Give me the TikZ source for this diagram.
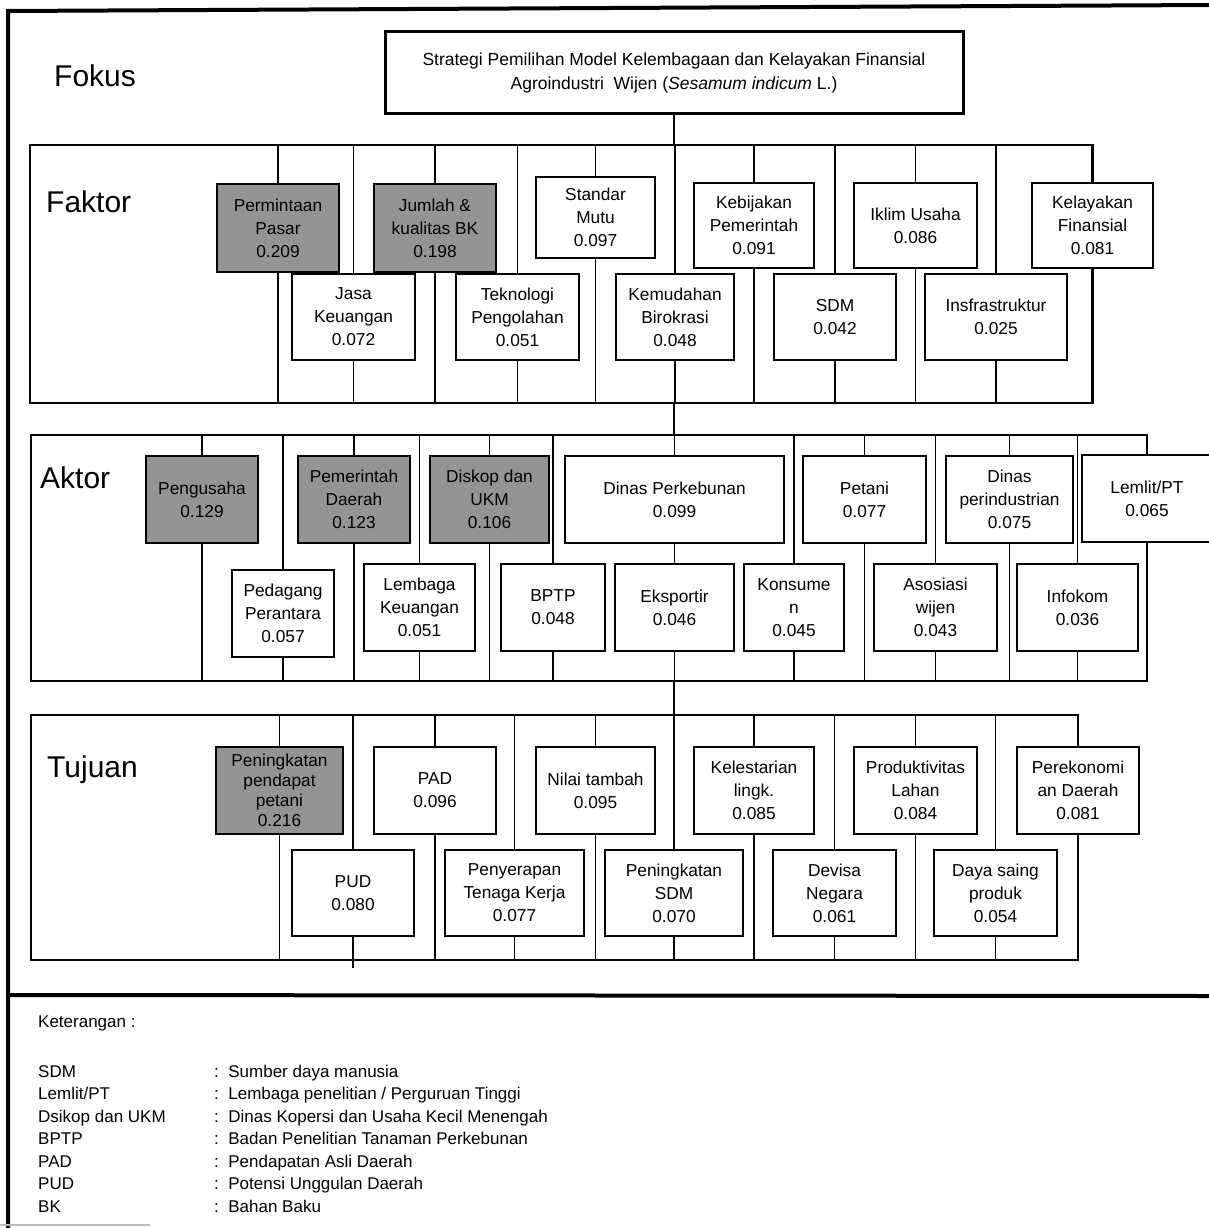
\documentclass[tikz,border=0pt]{standalone}
\usepackage{fontspec}
\setmainfont{Liberation Sans}
\newcommand{\bx}[7][]{%
  \node[box,#1,minimum width={(#5)-(#3)},minimum height={(#6)-(#4)}] (#2) at ({((#3)+(#5))/2},{((#4)+(#6))/2}) {#7};}
\tikzset{
  box/.style={draw, fill=white, line width=1.2pt, align=center, inner sep=0pt, outer sep=0pt,
              font=\fontsize{17.3}{23}\selectfont},
  shaded/.style={fill=black!42},
  bus/.style={line width=2.6pt},
  tbus/.style={line width=1.6pt},
  thinl/.style={line width=1.1pt},
  conn/.style={line width=1.1pt},
  frame/.style={line width=4pt},
  lbl/.style={anchor=base west, inner sep=0pt, font=\fontsize{30}{36}\selectfont},
  leg/.style={anchor=base west, inner sep=0pt, font=\fontsize{17}{22}\selectfont},
}
\begin{document}
\begin{tikzpicture}[x=1pt,y=-1pt]
\useasboundingbox (0,0) rectangle (1209,1228);
\fill[white] (0,0) rectangle (1209,1228);

% outer frame
\draw[frame] (8,1232) -- (8,11) -- (1212,5);
\draw[frame] (8,995) -- (1212,996);
\draw[gray!55, line width=2pt] (0,1225) -- (150,1225);

% level labels
\node[lbl] (lfokus) at (54,87) {Fokus};
\node[lbl] (lfaktor) at (46,212) {Faktor};
\node[lbl] (laktor) at (40,488) {Aktor};
\node[lbl] (ltujuan) at (47,777) {Tujuan};

% focus
\node[draw, line width=3pt, fill=white, align=center, inner sep=0pt, outer sep=0pt,
      minimum width=578, minimum height=82, font=\fontsize{17.5}{24}\selectfont] (focus) at (674,73)
  {Strategi Pemilihan Model Kelembagaan dan Kelayakan Finansial\\Agroindustri~ Wijen (\textit{Sesamum indicum} L.)};

% bus coordinates
\coordinate (ftop) at (0,145);  \coordinate (fbot) at (0,403);
\coordinate (atop) at (0,435);  \coordinate (abot) at (0,681);
\coordinate (ttop) at (0,715);  \coordinate (tbot) at (0,960);

% ---------------- Faktor boxes
\bx[shaded]{pp}{217}{184}{339}{272}{Permintaan\\Pasar\\0.209}
\bx[shaded]{jk}{374}{184}{496}{272}{Jumlah \&\\kualitas BK\\0.198}
\bx{sm}{536}{177}{655}{258}{Standar\\Mutu\\0.097}
\bx{kp}{694}{183}{814}{268}{Kebijakan\\Pemerintah\\0.091}
\bx{iu}{854}{183}{977}{268}{Iklim Usaha\\0.086}
\bx{kf}{1032}{183}{1153}{268}{Kelayakan\\Finansial\\0.081}
\bx{jsk}{292}{274}{415}{360}{Jasa\\Keuangan\\0.072}
\bx{tp}{456}{274}{579}{360}{Teknologi\\Pengolahan\\0.051}
\bx{kb}{616}{274}{734}{360}{Kemudahan\\Birokrasi\\0.048}
\bx{sdm}{774}{274}{896}{360}{SDM\\0.042}
\bx{inf}{925}{274}{1067}{360}{Insfrastruktur\\0.025}

% ---------------- Aktor boxes
\bx[shaded]{pu}{146}{456}{258}{543}{Pengusaha\\0.129}
\bx[shaded]{pd}{298}{456}{410}{543}{Pemerintah\\Daerah\\0.123}
\bx[shaded]{du}{430}{456}{549}{543}{Diskop dan\\UKM\\0.106}
\bx{dp}{565}{456}{784}{543}{Dinas Perkebunan\\0.099}
\bx{pt}{803}{456}{926}{543}{Petani\\0.077}
\bx{di}{946}{456}{1073}{543}{Dinas\\perindustrian\\0.075}
\bx{lp}{1082}{455}{1212}{542}{Lemlit/PT\\0.065}
\bx{ppr}{232}{570}{334}{657}{Pedagang\\Perantara\\0.057}
\bx{lk}{364}{564}{475}{651}{Lembaga\\Keuangan\\0.051}
\bx{bptp}{501}{564}{605}{651}{BPTP\\0.048}
\bx{eks}{615}{564}{734}{651}{Eksportir\\0.046}
\bx{kon}{744}{564}{844}{651}{Konsume\\n\\0.045}
\bx{aw}{874}{564}{997}{651}{Asosiasi\\wijen\\0.043}
\bx{ik}{1017}{564}{1138}{651}{Infokom\\0.036}

% ---------------- Tujuan boxes
\bx[shaded,font=\fontsize{17.3}{20}\selectfont]{ppp}{216}{747}{343}{834}{Peningkatan\\pendapat\\petani\\0.216}
\bx{pad}{374}{747}{496}{834}{PAD\\0.096}
\bx{nt}{536}{747}{655}{834}{Nilai tambah\\0.095}
\bx{kl}{694}{747}{814}{834}{Kelestarian\\lingk.\\0.085}
\bx{pl}{854}{747}{977}{834}{Produktivitas\\Lahan\\0.084}
\bx{pe}{1017}{747}{1139}{834}{Perekonomi\\an Daerah\\0.081}
\bx{pud}{292}{850}{414}{936}{PUD\\0.080}
\bx{ptk}{445}{850}{584}{936}{Penyerapan\\Tenaga Kerja\\0.077}
\bx{psdm}{605}{850}{743}{936}{Peningkatan\\SDM\\0.070}
\bx{dn}{773}{850}{896}{936}{Devisa\\Negara\\0.061}
\bx{ds}{934}{850}{1057}{936}{Daya saing\\produk\\0.054}

% Faktor section
\draw[thinl] (pp.north |- ftop) -- (30,145) -- (30,403) -- (pp.south |- fbot);
\draw[bus] (pp.north) -- (pp.north |- ftop) -- (kf.north |- ftop) -- (kf.north);
\draw[bus] (pp.south) -- (pp.south |- fbot) -- (kf.south |- fbot) -- (kf.south);
\foreach \n in {jsk,jk,tp,sm,kb,kp,sdm,iu,inf}{
  \draw[conn] (\n.north) -- (\n.north |- ftop);
  \draw[conn] (\n.south) -- (\n.south |- fbot);
}
\draw[bus] (focus.south) -- (focus.south |- ftop);
\draw[bus] (focus.south |- fbot) -- (focus.south |- atop);

% Aktor section
\draw[thinl] (pu.north |- atop) -- (31,435) -- (31,681) -- (pu.south |- abot);
\draw[bus] (pu.north) -- (pu.north |- atop) -- (lp.north |- atop) -- (lp.north);
\draw[bus] (pu.south) -- (pu.south |- abot) -- (lp.south |- abot) -- (lp.south);
\foreach \n in {ppr,pd,lk,du,bptp,pt,kon,di,aw,ik}{
  \draw[conn] (\n.north) -- (\n.north |- atop);
  \draw[conn] (\n.south) -- (\n.south |- abot);
}
\draw[conn] (dp.north) -- (dp.north |- atop);
\draw[conn] (dp.south) -- (eks.north);
\draw[conn] (eks.south) -- (eks.south |- abot);
\draw[bus] (focus.south |- abot) -- (focus.south |- ttop);

% Tujuan section
\draw[thinl] (ppp.north |- ttop) -- (31,715) -- (31,960) -- (ppp.south |- tbot);
\draw[tbus] (ppp.north) -- (ppp.north |- ttop) -- (pe.north |- ttop) -- (pe.north);
\draw[tbus] (ppp.south) -- (ppp.south |- tbot) -- (pe.south |- tbot) -- (pe.south);
\foreach \n in {pud,pad,ptk,nt,psdm,kl,dn,pl,ds}{
  \draw[conn] (\n.north) -- (\n.north |- ttop);
  \draw[conn] (\n.south) -- (\n.south |- tbot);
}
\draw[conn] (pud.south |- tbot) -- ++(0,8);

% ---------------- legend
\node[leg] (ket) at (38,1027) {Keterangan :};
\foreach \i/\a/\b in {0/{SDM}/{Sumber daya manusia},
                      1/{Lemlit/PT}/{Lembaga penelitian / Perguruan Tinggi},
                      2/{Dsikop dan UKM}/{Dinas Kopersi dan Usaha Kecil Menengah},
                      3/{BPTP}/{Badan Penelitian Tanaman Perkebunan},
                      4/{PAD}/{Pendapatan Asli Daerah},
                      5/{PUD}/{Potensi Unggulan Daerah},
                      6/{BK}/{Bahan Baku}}{
  \node[leg] (la\i) at (38,{1077+22.5*\i}) {\a};
  \node[leg] (lb\i) at (214,{1077+22.5*\i}) {:\ \ \b};
}
\end{tikzpicture}
\end{document}
